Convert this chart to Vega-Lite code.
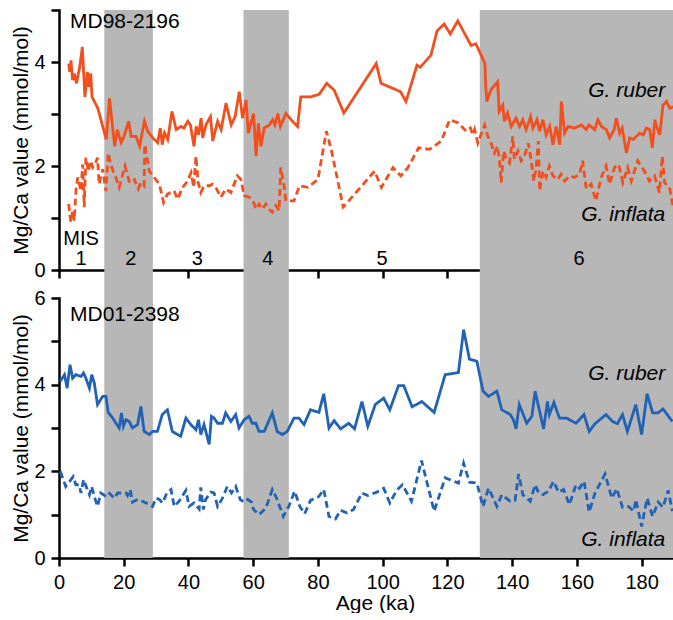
{
  "$schema": "https://vega.github.io/schema/vega-lite/v6.json",
  "padding": {"left": 10, "top": 0, "right": 0, "bottom": 0},
  "background": "white",
  "config": {
    "font": "Liberation Sans",
    "view": {"stroke": null},
    "axis": {
      "grid": false, "zindex": 1,
      "domainColor": "black", "domainWidth": 2.5, "domainCap": "square",
      "tickColor": "black", "tickWidth": 2.5, "tickSize": 8,
      "labelColor": "black", "labelFontSize": 20, "labelFont": "Liberation Sans",
      "titleColor": "black", "titleFontSize": 21, "titleFontWeight": "normal", "titleFont": "Liberation Sans",
      "labelOverlap": false, "labelBound": false, "labelFlush": false
    },
    "text": {"font": "Liberation Sans", "color": "black"}
  },
  "datasets": {
    "bands": [{"age": 14, "age2": 29}, {"age": 57, "age2": 71}, {"age": 130, "age2": 190}],
    "mis": [
      {"age": 6.8, "v": 0.48, "t": "MIS"},
      {"age": 6.8, "v": 0.10, "t": "1"},
      {"age": 22.2, "v": 0.10, "t": "2"},
      {"age": 42.7, "v": 0.10, "t": "3"},
      {"age": 64.5, "v": 0.10, "t": "4"},
      {"age": 99.8, "v": 0.10, "t": "5"},
      {"age": 160.7, "v": 0.10, "t": "6"}
    ],
    "md98": [
      {"age":3.0,"v":3.97,"s":"ruber"},{"age":3.3,"v":3.81,"s":"ruber"},{"age":3.7,"v":4.03,"s":"ruber"},{"age":4.2,"v":3.65,"s":"ruber"},{"age":4.7,"v":3.78,"s":"ruber"},{"age":5.4,"v":3.59,"s":"ruber"},{"age":6.5,"v":3.94,"s":"ruber"},{"age":7.2,"v":4.29,"s":"ruber"},{"age":8.0,"v":3.33,"s":"ruber"},{"age":8.8,"v":3.81,"s":"ruber"},{"age":9.2,"v":3.52,"s":"ruber"},{"age":9.8,"v":3.78,"s":"ruber"},{"age":10.2,"v":3.33,"s":"ruber"},{"age":12.0,"v":3.11,"s":"ruber"},{"age":14.6,"v":2.51,"s":"ruber"},{"age":15.6,"v":3.30,"s":"ruber"},{"age":17.2,"v":2.38,"s":"ruber"},{"age":18.0,"v":2.70,"s":"ruber"},{"age":19.2,"v":2.45,"s":"ruber"},{"age":20.1,"v":2.57,"s":"ruber"},{"age":21.5,"v":2.86,"s":"ruber"},{"age":22.3,"v":2.57,"s":"ruber"},{"age":23.8,"v":2.57,"s":"ruber"},{"age":24.9,"v":2.38,"s":"ruber"},{"age":26.4,"v":2.86,"s":"ruber"},{"age":27.4,"v":2.67,"s":"ruber"},{"age":29.0,"v":2.54,"s":"ruber"},{"age":30.5,"v":2.45,"s":"ruber"},{"age":31.3,"v":2.73,"s":"ruber"},{"age":31.9,"v":2.41,"s":"ruber"},{"age":32.6,"v":2.64,"s":"ruber"},{"age":33.6,"v":2.51,"s":"ruber"},{"age":34.9,"v":3.05,"s":"ruber"},{"age":36.2,"v":2.70,"s":"ruber"},{"age":37.7,"v":2.76,"s":"ruber"},{"age":38.6,"v":2.73,"s":"ruber"},{"age":39.8,"v":2.86,"s":"ruber"},{"age":40.6,"v":2.79,"s":"ruber"},{"age":41.7,"v":2.38,"s":"ruber"},{"age":42.4,"v":2.76,"s":"ruber"},{"age":43.1,"v":2.60,"s":"ruber"},{"age":43.9,"v":2.92,"s":"ruber"},{"age":44.4,"v":2.54,"s":"ruber"},{"age":45.4,"v":2.79,"s":"ruber"},{"age":46.8,"v":2.95,"s":"ruber"},{"age":47.5,"v":2.48,"s":"ruber"},{"age":49.0,"v":2.86,"s":"ruber"},{"age":50.1,"v":2.70,"s":"ruber"},{"age":51.6,"v":3.21,"s":"ruber"},{"age":53.2,"v":2.79,"s":"ruber"},{"age":54.4,"v":2.95,"s":"ruber"},{"age":55.7,"v":3.43,"s":"ruber"},{"age":56.7,"v":2.92,"s":"ruber"},{"age":57.8,"v":3.27,"s":"ruber"},{"age":58.5,"v":2.63,"s":"ruber"},{"age":59.3,"v":2.82,"s":"ruber"},{"age":60.1,"v":3.01,"s":"ruber"},{"age":60.9,"v":2.19,"s":"ruber"},{"age":61.6,"v":2.82,"s":"ruber"},{"age":62.4,"v":2.38,"s":"ruber"},{"age":63.4,"v":2.73,"s":"ruber"},{"age":65.0,"v":2.79,"s":"ruber"},{"age":66.0,"v":2.89,"s":"ruber"},{"age":66.7,"v":2.79,"s":"ruber"},{"age":67.6,"v":3.01,"s":"ruber"},{"age":68.4,"v":2.76,"s":"ruber"},{"age":70.1,"v":3.01,"s":"ruber"},{"age":71.7,"v":2.89,"s":"ruber"},{"age":73.7,"v":2.76,"s":"ruber"},{"age":74.7,"v":3.33,"s":"ruber"},{"age":77.8,"v":3.33,"s":"ruber"},{"age":80.4,"v":3.38,"s":"ruber"},{"age":82.7,"v":3.59,"s":"ruber"},{"age":85.0,"v":3.46,"s":"ruber"},{"age":88.0,"v":3.02,"s":"ruber"},{"age":98.0,"v":3.97,"s":"ruber"},{"age":99.5,"v":3.59,"s":"ruber"},{"age":105.5,"v":3.43,"s":"ruber"},{"age":107.2,"v":3.24,"s":"ruber"},{"age":110.6,"v":3.94,"s":"ruber"},{"age":111.6,"v":3.90,"s":"ruber"},{"age":114.9,"v":4.13,"s":"ruber"},{"age":116.8,"v":4.60,"s":"ruber"},{"age":119.0,"v":4.73,"s":"ruber"},{"age":120.9,"v":4.54,"s":"ruber"},{"age":123.2,"v":4.79,"s":"ruber"},{"age":127.3,"v":4.32,"s":"ruber"},{"age":128.8,"v":4.35,"s":"ruber"},{"age":131.6,"v":3.97,"s":"ruber"},{"age":131.8,"v":3.56,"s":"ruber"},{"age":132.2,"v":3.24,"s":"ruber"},{"age":133.4,"v":3.46,"s":"ruber"},{"age":135.5,"v":3.62,"s":"ruber"},{"age":136.0,"v":3.05,"s":"ruber"},{"age":137.1,"v":3.17,"s":"ruber"},{"age":137.6,"v":2.86,"s":"ruber"},{"age":138.6,"v":3.02,"s":"ruber"},{"age":139.7,"v":2.76,"s":"ruber"},{"age":141.2,"v":2.92,"s":"ruber"},{"age":142.3,"v":2.76,"s":"ruber"},{"age":143.3,"v":2.89,"s":"ruber"},{"age":144.3,"v":2.70,"s":"ruber"},{"age":145.7,"v":2.95,"s":"ruber"},{"age":146.4,"v":2.73,"s":"ruber"},{"age":147.7,"v":2.89,"s":"ruber"},{"age":148.5,"v":2.67,"s":"ruber"},{"age":149.5,"v":2.89,"s":"ruber"},{"age":150.5,"v":2.60,"s":"ruber"},{"age":151.6,"v":2.76,"s":"ruber"},{"age":152.6,"v":2.41,"s":"ruber"},{"age":153.6,"v":2.76,"s":"ruber"},{"age":154.7,"v":2.41,"s":"ruber"},{"age":155.2,"v":3.24,"s":"ruber"},{"age":156.2,"v":2.64,"s":"ruber"},{"age":157.3,"v":2.76,"s":"ruber"},{"age":159.3,"v":2.73,"s":"ruber"},{"age":161.4,"v":2.79,"s":"ruber"},{"age":162.9,"v":2.70,"s":"ruber"},{"age":163.7,"v":2.79,"s":"ruber"},{"age":165.5,"v":2.70,"s":"ruber"},{"age":166.5,"v":2.89,"s":"ruber"},{"age":167.6,"v":2.76,"s":"ruber"},{"age":169.1,"v":2.70,"s":"ruber"},{"age":170.1,"v":2.54,"s":"ruber"},{"age":171.5,"v":2.70,"s":"ruber"},{"age":172.2,"v":2.92,"s":"ruber"},{"age":173.2,"v":2.63,"s":"ruber"},{"age":174.0,"v":2.73,"s":"ruber"},{"age":175.3,"v":2.25,"s":"ruber"},{"age":176.3,"v":2.54,"s":"ruber"},{"age":177.4,"v":2.51,"s":"ruber"},{"age":178.4,"v":2.57,"s":"ruber"},{"age":179.4,"v":2.63,"s":"ruber"},{"age":180.5,"v":2.60,"s":"ruber"},{"age":181.5,"v":2.73,"s":"ruber"},{"age":182.5,"v":2.70,"s":"ruber"},{"age":183.3,"v":2.35,"s":"ruber"},{"age":184.1,"v":2.89,"s":"ruber"},{"age":184.6,"v":2.76,"s":"ruber"},{"age":185.6,"v":2.60,"s":"ruber"},{"age":186.6,"v":3.17,"s":"ruber"},{"age":187.7,"v":3.24,"s":"ruber"},{"age":188.7,"v":3.11,"s":"ruber"},{"age":189.8,"v":3.14,"s":"ruber"},
      {"age":3.0,"v":1.27,"s":"inflata"},{"age":3.3,"v":1.08,"s":"inflata"},{"age":3.7,"v":0.92,"s":"inflata"},{"age":4.2,"v":1.14,"s":"inflata"},{"age":4.7,"v":0.95,"s":"inflata"},{"age":5.3,"v":1.59,"s":"inflata"},{"age":5.8,"v":1.78,"s":"inflata"},{"age":6.8,"v":1.52,"s":"inflata"},{"age":7.3,"v":2.03,"s":"inflata"},{"age":7.8,"v":1.21,"s":"inflata"},{"age":8.3,"v":2.16,"s":"inflata"},{"age":9.1,"v":1.90,"s":"inflata"},{"age":9.7,"v":2.10,"s":"inflata"},{"age":10.4,"v":1.97,"s":"inflata"},{"age":11.1,"v":2.03,"s":"inflata"},{"age":11.9,"v":2.16,"s":"inflata"},{"age":12.4,"v":1.65,"s":"inflata"},{"age":13.5,"v":1.94,"s":"inflata"},{"age":14.5,"v":1.52,"s":"inflata"},{"age":15.2,"v":2.25,"s":"inflata"},{"age":16.0,"v":2.03,"s":"inflata"},{"age":17.1,"v":1.84,"s":"inflata"},{"age":17.6,"v":1.78,"s":"inflata"},{"age":18.6,"v":1.59,"s":"inflata"},{"age":19.7,"v":1.84,"s":"inflata"},{"age":20.4,"v":2.00,"s":"inflata"},{"age":21.8,"v":1.68,"s":"inflata"},{"age":23.3,"v":1.74,"s":"inflata"},{"age":24.5,"v":1.56,"s":"inflata"},{"age":25.3,"v":1.68,"s":"inflata"},{"age":26.3,"v":1.62,"s":"inflata"},{"age":26.5,"v":2.41,"s":"inflata"},{"age":27.9,"v":1.90,"s":"inflata"},{"age":29.4,"v":1.78,"s":"inflata"},{"age":31.0,"v":1.65,"s":"inflata"},{"age":32.3,"v":1.30,"s":"inflata"},{"age":33.5,"v":1.46,"s":"inflata"},{"age":35.6,"v":1.52,"s":"inflata"},{"age":36.6,"v":1.36,"s":"inflata"},{"age":38.2,"v":1.59,"s":"inflata"},{"age":39.7,"v":1.71,"s":"inflata"},{"age":40.8,"v":1.87,"s":"inflata"},{"age":41.6,"v":1.59,"s":"inflata"},{"age":42.3,"v":2.19,"s":"inflata"},{"age":43.0,"v":1.68,"s":"inflata"},{"age":43.8,"v":1.49,"s":"inflata"},{"age":44.8,"v":1.62,"s":"inflata"},{"age":46.4,"v":1.62,"s":"inflata"},{"age":47.4,"v":1.65,"s":"inflata"},{"age":48.4,"v":1.59,"s":"inflata"},{"age":50.0,"v":1.40,"s":"inflata"},{"age":51.5,"v":1.56,"s":"inflata"},{"age":53.1,"v":1.49,"s":"inflata"},{"age":55.1,"v":1.81,"s":"inflata"},{"age":56.2,"v":1.74,"s":"inflata"},{"age":57.2,"v":1.43,"s":"inflata"},{"age":58.8,"v":1.40,"s":"inflata"},{"age":60.1,"v":1.30,"s":"inflata"},{"age":60.8,"v":1.17,"s":"inflata"},{"age":61.8,"v":1.27,"s":"inflata"},{"age":62.9,"v":1.17,"s":"inflata"},{"age":63.9,"v":1.27,"s":"inflata"},{"age":64.9,"v":1.17,"s":"inflata"},{"age":65.9,"v":1.11,"s":"inflata"},{"age":67.0,"v":1.24,"s":"inflata"},{"age":68.0,"v":1.14,"s":"inflata"},{"age":68.5,"v":1.97,"s":"inflata"},{"age":69.6,"v":1.59,"s":"inflata"},{"age":70.1,"v":1.33,"s":"inflata"},{"age":72.6,"v":1.33,"s":"inflata"},{"age":74.3,"v":1.62,"s":"inflata"},{"age":76.9,"v":1.59,"s":"inflata"},{"age":80.0,"v":1.74,"s":"inflata"},{"age":82.6,"v":2.67,"s":"inflata"},{"age":84.2,"v":2.29,"s":"inflata"},{"age":87.8,"v":1.21,"s":"inflata"},{"age":97.5,"v":1.90,"s":"inflata"},{"age":99.6,"v":1.59,"s":"inflata"},{"age":103.2,"v":1.97,"s":"inflata"},{"age":105.6,"v":1.81,"s":"inflata"},{"age":107.8,"v":1.97,"s":"inflata"},{"age":111.1,"v":2.35,"s":"inflata"},{"age":114.5,"v":2.32,"s":"inflata"},{"age":118.1,"v":2.48,"s":"inflata"},{"age":120.7,"v":2.89,"s":"inflata"},{"age":123.3,"v":2.83,"s":"inflata"},{"age":125.8,"v":2.67,"s":"inflata"},{"age":127.1,"v":2.73,"s":"inflata"},{"age":127.9,"v":2.60,"s":"inflata"},{"age":128.4,"v":2.70,"s":"inflata"},{"age":129.4,"v":2.44,"s":"inflata"},{"age":131.5,"v":2.79,"s":"inflata"},{"age":132.5,"v":2.57,"s":"inflata"},{"age":133.5,"v":2.44,"s":"inflata"},{"age":134.5,"v":2.25,"s":"inflata"},{"age":135.5,"v":2.38,"s":"inflata"},{"age":136.1,"v":2.10,"s":"inflata"},{"age":136.6,"v":1.68,"s":"inflata"},{"age":137.4,"v":2.29,"s":"inflata"},{"age":138.1,"v":2.16,"s":"inflata"},{"age":139.2,"v":2.06,"s":"inflata"},{"age":140.2,"v":2.57,"s":"inflata"},{"age":140.7,"v":2.13,"s":"inflata"},{"age":141.8,"v":2.29,"s":"inflata"},{"age":142.8,"v":2.10,"s":"inflata"},{"age":143.8,"v":2.19,"s":"inflata"},{"age":145.0,"v":2.44,"s":"inflata"},{"age":145.9,"v":2.10,"s":"inflata"},{"age":146.7,"v":1.71,"s":"inflata"},{"age":147.4,"v":1.97,"s":"inflata"},{"age":148.1,"v":2.48,"s":"inflata"},{"age":148.5,"v":1.52,"s":"inflata"},{"age":149.5,"v":1.90,"s":"inflata"},{"age":150.5,"v":1.78,"s":"inflata"},{"age":151.5,"v":2.00,"s":"inflata"},{"age":152.6,"v":1.81,"s":"inflata"},{"age":154.1,"v":1.74,"s":"inflata"},{"age":155.1,"v":1.84,"s":"inflata"},{"age":156.2,"v":1.71,"s":"inflata"},{"age":157.7,"v":1.81,"s":"inflata"},{"age":159.2,"v":1.78,"s":"inflata"},{"age":160.8,"v":1.84,"s":"inflata"},{"age":161.8,"v":2.10,"s":"inflata"},{"age":162.9,"v":1.56,"s":"inflata"},{"age":164.4,"v":1.65,"s":"inflata"},{"age":165.9,"v":1.33,"s":"inflata"},{"age":167.5,"v":1.78,"s":"inflata"},{"age":169.0,"v":2.00,"s":"inflata"},{"age":170.1,"v":1.65,"s":"inflata"},{"age":171.6,"v":1.97,"s":"inflata"},{"age":172.9,"v":2.03,"s":"inflata"},{"age":174.2,"v":1.68,"s":"inflata"},{"age":175.7,"v":1.97,"s":"inflata"},{"age":176.8,"v":1.71,"s":"inflata"},{"age":178.8,"v":2.10,"s":"inflata"},{"age":180.9,"v":1.90,"s":"inflata"},{"age":182.4,"v":1.71,"s":"inflata"},{"age":184.0,"v":1.81,"s":"inflata"},{"age":185.5,"v":1.49,"s":"inflata"},{"age":186.4,"v":2.19,"s":"inflata"},{"age":187.1,"v":1.68,"s":"inflata"},{"age":188.6,"v":1.59,"s":"inflata"},{"age":189.7,"v":1.21,"s":"inflata"}
    ],
    "md01": [
      {"age":0.4,"v":4.08,"s":"ruber"},{"age":1.7,"v":4.23,"s":"ruber"},{"age":2.5,"v":3.92,"s":"ruber"},{"age":3.4,"v":4.46,"s":"ruber"},{"age":4.2,"v":4.15,"s":"ruber"},{"age":5.2,"v":4.23,"s":"ruber"},{"age":6.8,"v":4.19,"s":"ruber"},{"age":7.6,"v":4.27,"s":"ruber"},{"age":8.3,"v":4.15,"s":"ruber"},{"age":9.4,"v":3.92,"s":"ruber"},{"age":10.1,"v":4.23,"s":"ruber"},{"age":10.9,"v":4.04,"s":"ruber"},{"age":11.9,"v":3.54,"s":"ruber"},{"age":13.5,"v":3.73,"s":"ruber"},{"age":14.5,"v":3.73,"s":"ruber"},{"age":15.2,"v":3.36,"s":"ruber"},{"age":16.6,"v":3.23,"s":"ruber"},{"age":17.6,"v":3.11,"s":"ruber"},{"age":18.6,"v":3.00,"s":"ruber"},{"age":19.3,"v":3.35,"s":"ruber"},{"age":19.9,"v":3.04,"s":"ruber"},{"age":20.7,"v":3.19,"s":"ruber"},{"age":21.7,"v":3.15,"s":"ruber"},{"age":22.7,"v":3.00,"s":"ruber"},{"age":24.3,"v":3.08,"s":"ruber"},{"age":25.3,"v":3.50,"s":"ruber"},{"age":26.3,"v":2.92,"s":"ruber"},{"age":27.9,"v":2.85,"s":"ruber"},{"age":28.9,"v":2.92,"s":"ruber"},{"age":30.4,"v":2.92,"s":"ruber"},{"age":31.9,"v":3.31,"s":"ruber"},{"age":33.5,"v":3.42,"s":"ruber"},{"age":35.0,"v":2.92,"s":"ruber"},{"age":36.6,"v":2.85,"s":"ruber"},{"age":37.6,"v":2.81,"s":"ruber"},{"age":39.2,"v":3.23,"s":"ruber"},{"age":40.7,"v":3.08,"s":"ruber"},{"age":42.3,"v":2.96,"s":"ruber"},{"age":43.1,"v":3.19,"s":"ruber"},{"age":43.8,"v":2.85,"s":"ruber"},{"age":44.8,"v":3.08,"s":"ruber"},{"age":46.4,"v":2.62,"s":"ruber"},{"age":47.1,"v":3.27,"s":"ruber"},{"age":47.9,"v":3.23,"s":"ruber"},{"age":49.0,"v":3.11,"s":"ruber"},{"age":50.5,"v":3.11,"s":"ruber"},{"age":51.5,"v":3.35,"s":"ruber"},{"age":53.1,"v":3.15,"s":"ruber"},{"age":54.6,"v":3.31,"s":"ruber"},{"age":55.6,"v":3.00,"s":"ruber"},{"age":57.2,"v":3.19,"s":"ruber"},{"age":58.7,"v":3.27,"s":"ruber"},{"age":59.7,"v":3.11,"s":"ruber"},{"age":60.8,"v":3.11,"s":"ruber"},{"age":61.8,"v":2.92,"s":"ruber"},{"age":63.4,"v":2.92,"s":"ruber"},{"age":65.9,"v":3.35,"s":"ruber"},{"age":67.4,"v":2.92,"s":"ruber"},{"age":69.0,"v":2.85,"s":"ruber"},{"age":70.5,"v":2.92,"s":"ruber"},{"age":72.6,"v":3.23,"s":"ruber"},{"age":74.1,"v":3.23,"s":"ruber"},{"age":75.7,"v":3.08,"s":"ruber"},{"age":77.7,"v":3.42,"s":"ruber"},{"age":80.3,"v":3.36,"s":"ruber"},{"age":81.8,"v":3.79,"s":"ruber"},{"age":83.4,"v":3.00,"s":"ruber"},{"age":85.0,"v":3.17,"s":"ruber"},{"age":87.0,"v":2.98,"s":"ruber"},{"age":89.5,"v":3.11,"s":"ruber"},{"age":91.3,"v":2.98,"s":"ruber"},{"age":93.6,"v":3.61,"s":"ruber"},{"age":95.4,"v":3.04,"s":"ruber"},{"age":97.7,"v":3.54,"s":"ruber"},{"age":100.3,"v":3.69,"s":"ruber"},{"age":102.2,"v":3.42,"s":"ruber"},{"age":104.9,"v":3.98,"s":"ruber"},{"age":106.5,"v":3.98,"s":"ruber"},{"age":109.1,"v":3.49,"s":"ruber"},{"age":112.1,"v":3.61,"s":"ruber"},{"age":115.9,"v":3.36,"s":"ruber"},{"age":119.3,"v":4.23,"s":"ruber"},{"age":123.4,"v":4.28,"s":"ruber"},{"age":125.0,"v":5.27,"s":"ruber"},{"age":126.8,"v":4.59,"s":"ruber"},{"age":129.1,"v":4.54,"s":"ruber"},{"age":131.0,"v":3.85,"s":"ruber"},{"age":132.7,"v":3.73,"s":"ruber"},{"age":135.3,"v":3.85,"s":"ruber"},{"age":136.8,"v":3.42,"s":"ruber"},{"age":139.4,"v":3.31,"s":"ruber"},{"age":140.4,"v":3.19,"s":"ruber"},{"age":141.2,"v":2.98,"s":"ruber"},{"age":142.2,"v":3.54,"s":"ruber"},{"age":144.5,"v":3.11,"s":"ruber"},{"age":146.1,"v":3.27,"s":"ruber"},{"age":147.1,"v":3.85,"s":"ruber"},{"age":149.7,"v":2.98,"s":"ruber"},{"age":150.9,"v":3.61,"s":"ruber"},{"age":151.5,"v":3.31,"s":"ruber"},{"age":152.9,"v":3.59,"s":"ruber"},{"age":154.6,"v":3.23,"s":"ruber"},{"age":156.8,"v":3.23,"s":"ruber"},{"age":159.7,"v":3.11,"s":"ruber"},{"age":162.2,"v":3.31,"s":"ruber"},{"age":163.8,"v":2.92,"s":"ruber"},{"age":165.6,"v":3.10,"s":"ruber"},{"age":169.0,"v":3.31,"s":"ruber"},{"age":171.0,"v":3.15,"s":"ruber"},{"age":172.5,"v":3.10,"s":"ruber"},{"age":174.1,"v":3.31,"s":"ruber"},{"age":175.6,"v":2.92,"s":"ruber"},{"age":178.2,"v":3.54,"s":"ruber"},{"age":180.0,"v":2.85,"s":"ruber"},{"age":181.7,"v":3.79,"s":"ruber"},{"age":183.4,"v":3.35,"s":"ruber"},{"age":185.1,"v":3.35,"s":"ruber"},{"age":186.6,"v":3.44,"s":"ruber"},{"age":189.5,"v":3.15,"s":"ruber"},
      {"age":0.4,"v":2.00,"s":"inflata"},{"age":2.1,"v":1.65,"s":"inflata"},{"age":3.7,"v":1.81,"s":"inflata"},{"age":4.4,"v":1.88,"s":"inflata"},{"age":5.2,"v":1.69,"s":"inflata"},{"age":6.2,"v":1.69,"s":"inflata"},{"age":6.8,"v":1.50,"s":"inflata"},{"age":7.6,"v":1.81,"s":"inflata"},{"age":8.6,"v":1.61,"s":"inflata"},{"age":9.4,"v":1.46,"s":"inflata"},{"age":10.1,"v":1.65,"s":"inflata"},{"age":10.9,"v":1.42,"s":"inflata"},{"age":11.9,"v":1.19,"s":"inflata"},{"age":12.9,"v":1.50,"s":"inflata"},{"age":14.2,"v":1.44,"s":"inflata"},{"age":15.2,"v":1.52,"s":"inflata"},{"age":17.1,"v":1.38,"s":"inflata"},{"age":18.1,"v":1.50,"s":"inflata"},{"age":19.6,"v":1.50,"s":"inflata"},{"age":20.7,"v":1.50,"s":"inflata"},{"age":21.2,"v":1.44,"s":"inflata"},{"age":22.0,"v":1.58,"s":"inflata"},{"age":22.7,"v":1.29,"s":"inflata"},{"age":24.3,"v":1.35,"s":"inflata"},{"age":25.8,"v":1.31,"s":"inflata"},{"age":27.4,"v":1.25,"s":"inflata"},{"age":28.9,"v":1.19,"s":"inflata"},{"age":30.0,"v":1.38,"s":"inflata"},{"age":31.0,"v":1.35,"s":"inflata"},{"age":32.0,"v":1.27,"s":"inflata"},{"age":33.3,"v":1.50,"s":"inflata"},{"age":34.6,"v":1.58,"s":"inflata"},{"age":35.6,"v":1.19,"s":"inflata"},{"age":37.1,"v":1.31,"s":"inflata"},{"age":39.2,"v":1.56,"s":"inflata"},{"age":40.2,"v":1.19,"s":"inflata"},{"age":41.7,"v":1.27,"s":"inflata"},{"age":43.3,"v":1.13,"s":"inflata"},{"age":43.8,"v":1.63,"s":"inflata"},{"age":44.6,"v":1.12,"s":"inflata"},{"age":45.3,"v":1.35,"s":"inflata"},{"age":46.9,"v":1.52,"s":"inflata"},{"age":47.9,"v":1.50,"s":"inflata"},{"age":49.0,"v":1.19,"s":"inflata"},{"age":50.5,"v":1.38,"s":"inflata"},{"age":52.0,"v":1.65,"s":"inflata"},{"age":53.3,"v":1.50,"s":"inflata"},{"age":54.6,"v":1.65,"s":"inflata"},{"age":56.0,"v":1.35,"s":"inflata"},{"age":57.2,"v":1.29,"s":"inflata"},{"age":58.3,"v":1.35,"s":"inflata"},{"age":59.5,"v":1.29,"s":"inflata"},{"age":60.1,"v":1.12,"s":"inflata"},{"age":61.8,"v":1.00,"s":"inflata"},{"age":63.9,"v":1.15,"s":"inflata"},{"age":65.9,"v":1.58,"s":"inflata"},{"age":67.4,"v":1.35,"s":"inflata"},{"age":69.3,"v":0.96,"s":"inflata"},{"age":71.0,"v":1.19,"s":"inflata"},{"age":72.8,"v":1.54,"s":"inflata"},{"age":74.4,"v":1.19,"s":"inflata"},{"age":75.9,"v":1.02,"s":"inflata"},{"age":77.7,"v":1.33,"s":"inflata"},{"age":80.3,"v":1.42,"s":"inflata"},{"age":81.8,"v":1.58,"s":"inflata"},{"age":83.4,"v":0.96,"s":"inflata"},{"age":85.4,"v":0.90,"s":"inflata"},{"age":87.0,"v":1.10,"s":"inflata"},{"age":89.0,"v":1.04,"s":"inflata"},{"age":91.0,"v":1.12,"s":"inflata"},{"age":93.6,"v":1.50,"s":"inflata"},{"age":95.4,"v":1.44,"s":"inflata"},{"age":98.2,"v":1.52,"s":"inflata"},{"age":100.3,"v":1.61,"s":"inflata"},{"age":102.2,"v":1.27,"s":"inflata"},{"age":104.3,"v":1.56,"s":"inflata"},{"age":106.1,"v":1.69,"s":"inflata"},{"age":108.9,"v":1.31,"s":"inflata"},{"age":112.0,"v":2.25,"s":"inflata"},{"age":115.9,"v":1.08,"s":"inflata"},{"age":119.3,"v":1.85,"s":"inflata"},{"age":123.4,"v":1.73,"s":"inflata"},{"age":125.0,"v":2.19,"s":"inflata"},{"age":126.8,"v":1.75,"s":"inflata"},{"age":129.1,"v":1.73,"s":"inflata"},{"age":131.0,"v":1.19,"s":"inflata"},{"age":132.7,"v":1.61,"s":"inflata"},{"age":135.3,"v":1.19,"s":"inflata"},{"age":136.8,"v":1.46,"s":"inflata"},{"age":139.4,"v":1.31,"s":"inflata"},{"age":140.9,"v":1.33,"s":"inflata"},{"age":142.0,"v":1.94,"s":"inflata"},{"age":143.3,"v":1.46,"s":"inflata"},{"age":145.6,"v":1.31,"s":"inflata"},{"age":147.1,"v":1.69,"s":"inflata"},{"age":148.2,"v":1.50,"s":"inflata"},{"age":149.5,"v":1.46,"s":"inflata"},{"age":151.2,"v":1.54,"s":"inflata"},{"age":152.8,"v":1.77,"s":"inflata"},{"age":154.3,"v":1.52,"s":"inflata"},{"age":155.9,"v":1.58,"s":"inflata"},{"age":157.7,"v":1.23,"s":"inflata"},{"age":159.7,"v":1.69,"s":"inflata"},{"age":160.8,"v":1.61,"s":"inflata"},{"age":162.2,"v":1.77,"s":"inflata"},{"age":163.8,"v":1.06,"s":"inflata"},{"age":165.6,"v":1.50,"s":"inflata"},{"age":168.7,"v":1.94,"s":"inflata"},{"age":170.8,"v":1.38,"s":"inflata"},{"age":172.3,"v":1.60,"s":"inflata"},{"age":174.1,"v":1.17,"s":"inflata"},{"age":175.9,"v":1.19,"s":"inflata"},{"age":177.6,"v":1.08,"s":"inflata"},{"age":178.2,"v":1.35,"s":"inflata"},{"age":180.0,"v":0.73,"s":"inflata"},{"age":181.7,"v":1.38,"s":"inflata"},{"age":183.4,"v":0.96,"s":"inflata"},{"age":185.1,"v":1.29,"s":"inflata"},{"age":186.6,"v":1.17,"s":"inflata"},{"age":188.2,"v":1.56,"s":"inflata"},{"age":189.5,"v":1.08,"s":"inflata"}
    ]
  },
  "spacing": 28,
  "bounds": "flush",
  "vconcat": [
    {
      "width": 615,
      "height": 260,
      "layer": [
        {"data": {"name": "bands"}, "mark": {"type": "rect", "color": "#b7b7b7"},
         "encoding": {
           "x": {"field": "age", "type": "quantitative", "scale": {"domain": [0, 190], "nice": false},
                 "axis": {"values": [0,10,20,30,40,50,60,70,80,90,100,110,120,130,140,150,160,170,180], "labels": false, "title": null}},
           "x2": {"field": "age2"},
           "y": {"datum": 5, "type": "quantitative", "scale": {"domain": [0, 5], "nice": false},
                 "axis": {"values": [0,1,2,3,4,5], "labelExpr": "datum.value % 2 == 0 && datum.value < 5 ? datum.label : ''", "labelPadding": 6, "title": "Mg/Ca value (mmol/mol)", "titlePadding": 2}},
           "y2": {"datum": -0.55}}},
        {"data": {"name": "md98"}, "mark": {"type": "line", "color": "#f24f1f", "strokeWidth": 2.8},
         "encoding": {
           "x": {"field": "age", "type": "quantitative", "title": null},
           "y": {"field": "v", "type": "quantitative", "title": "Mg/Ca value (mmol/mol)"},
           "strokeDash": {"field": "s", "type": "nominal", "scale": {"domain": ["ruber", "inflata"], "range": [[1, 0], [7, 4]]}, "legend": null}}},
        {"data": {"values": [{"age": 3.4, "v": 4.65, "t": "MD98-2196"}]}, "mark": {"type": "text", "align": "left", "baseline": "alphabetic", "fontSize": 21},
         "encoding": {"x": {"field": "age", "type": "quantitative", "title": null}, "y": {"field": "v", "type": "quantitative", "title": "Mg/Ca value (mmol/mol)"}, "text": {"field": "t"}}},
        {"data": {"values": [{"age": 187.3, "v": 3.33, "t": "G. ruber"}, {"age": 187.3, "v": 0.95, "t": "G. inflata"}]}, "mark": {"type": "text", "align": "right", "baseline": "alphabetic", "fontSize": 21, "fontStyle": "italic"},
         "encoding": {"x": {"field": "age", "type": "quantitative", "title": null}, "y": {"field": "v", "type": "quantitative", "title": "Mg/Ca value (mmol/mol)"}, "text": {"field": "t"}}},
        {"data": {"name": "mis"}, "mark": {"type": "text", "align": "center", "baseline": "alphabetic", "fontSize": 20},
         "encoding": {"x": {"field": "age", "type": "quantitative", "title": null}, "y": {"field": "v", "type": "quantitative", "title": "Mg/Ca value (mmol/mol)"}, "text": {"field": "t"}}}
      ]
    },
    {
      "width": 615,
      "height": 260,
      "layer": [
        {"data": {"name": "bands"}, "mark": {"type": "rect", "color": "#b7b7b7"},
         "encoding": {
           "x": {"field": "age", "type": "quantitative", "scale": {"domain": [0, 190], "nice": false},
                 "axis": {"values": [0,10,20,30,40,50,60,70,80,90,100,110,120,130,140,150,160,170,180], "labelExpr": "datum.value % 20 == 0 ? datum.label : ''", "labelPadding": 6, "title": "Age (ka)", "titlePadding": 0, "titleX": 316}},
           "x2": {"field": "age2"},
           "y": {"datum": 6, "type": "quantitative", "scale": {"domain": [0, 6], "nice": false},
                 "axis": {"values": [0,1,2,3,4,5,6], "labelExpr": "datum.value % 2 == 0 ? datum.label : ''", "labelPadding": 6, "title": "Mg/Ca value (mmol/mol)", "titlePadding": 2}},
           "y2": {"datum": 0}}},
        {"data": {"name": "md01"}, "mark": {"type": "line", "color": "#2162b5", "strokeWidth": 2.8},
         "encoding": {
           "x": {"field": "age", "type": "quantitative", "title": "Age (ka)"},
           "y": {"field": "v", "type": "quantitative", "title": "Mg/Ca value (mmol/mol)"},
           "strokeDash": {"field": "s", "type": "nominal", "scale": {"domain": ["ruber", "inflata"], "range": [[1, 0], [8, 4]]}, "legend": null}}},
        {"data": {"values": [{"age": 3.4, "v": 5.48, "t": "MD01-2398"}]}, "mark": {"type": "text", "align": "left", "baseline": "alphabetic", "fontSize": 21},
         "encoding": {"x": {"field": "age", "type": "quantitative", "title": "Age (ka)"}, "y": {"field": "v", "type": "quantitative", "title": "Mg/Ca value (mmol/mol)"}, "text": {"field": "t"}}},
        {"data": {"values": [{"age": 187.3, "v": 4.10, "t": "G. ruber"}, {"age": 187.3, "v": 0.27, "t": "G. inflata"}]}, "mark": {"type": "text", "align": "right", "baseline": "alphabetic", "fontSize": 21, "fontStyle": "italic"},
         "encoding": {"x": {"field": "age", "type": "quantitative", "title": "Age (ka)"}, "y": {"field": "v", "type": "quantitative", "title": "Mg/Ca value (mmol/mol)"}, "text": {"field": "t"}}}
      ]
    }
  ]
}
